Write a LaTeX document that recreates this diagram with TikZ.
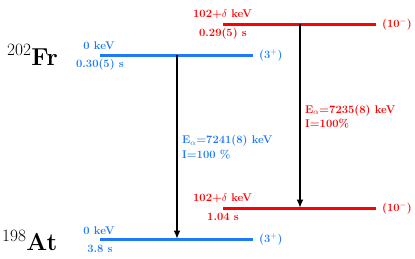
\documentclass[tikz,border=0pt]{standalone}
\usetikzlibrary{arrows.meta}
\definecolor{lvblue}{RGB}{30,122,250}
\definecolor{lvred}{RGB}{255,0,0}
\begin{document}
\begin{tikzpicture}[x=1pt,y=-1pt,
  lvl/.style={line width=3pt},
  lab/.style={font=\fontsize{11.2}{13}\selectfont\bfseries, inner sep=0pt},
  spin/.style={lab, anchor=west},
  trans/.style={line width=1.9pt, -{Latex[length=8.5pt,width=7pt]}},
  iso/.style={font=\fontsize{24.5}{28}\selectfont, inner sep=0pt}
]
\useasboundingbox (0,0) rectangle (415,258);
% levels
\coordinate (fbL) at (100,55);  \coordinate (fbR) at (253,55);
\coordinate (frL) at (223,24);  \coordinate (frR) at (376,24);
\coordinate (arL) at (223,208); \coordinate (arR) at (376,208);
\coordinate (abL) at (100,239); \coordinate (abR) at (253,239);
\draw[lvl, lvblue] (fbL) -- (fbR);
\draw[lvl, lvred] (frL) -- (frR);
\draw[lvl, lvred] (arL) -- (arR);
\draw[lvl, lvblue] (abL) -- (abR);
% energy / half-life labels
\node[lab, lvblue] (fbE) at (99,46) {0 keV};
\node[lab, lvblue] (fbT) at (100,65) {0.30(5) s};
\node[lab, lvred] (frE) at (222.5,14) {102+$\delta$ keV};
\node[lab, lvred] (frT) at (223,34) {0.29(5) s};
\node[lab, lvred] (arE) at (222.5,198) {102+$\delta$ keV};
\node[lab, lvred] (arT) at (223,217) {1.04 s};
\node[lab, lvblue] (abE) at (99,231) {0 keV};
\node[lab, lvblue] (abT) at (100,248.5) {3.8 s};
% spins
\node[spin, lvblue] (fbS) at (259,55) {(3$^+$)};
\node[spin, lvred] (frS) at (382,24) {(10$^-$)};
\node[spin, lvred] (arS) at (382,208) {(10$^-$)};
\node[spin, lvblue] (abS) at (259,239) {(3$^+$)};
% transitions
\coordinate (b1) at (177,55); \coordinate (b2) at (177,239);
\coordinate (r1) at (300,24); \coordinate (r2) at (300,208);
\draw[trans] (b1) -- (b2);
\draw[trans] (r1) -- (r2);
\node[lab, lvblue, anchor=west] (bl1) at (182,141) {E$_\alpha$=7241(8) keV};
\node[lab, lvblue, anchor=west] (bl2) at (182,154.5) {I=100 \%};
\node[lab, lvred, anchor=west] (rl1) at (305,110.5) {E$_\alpha$=7235(8) keV};
\node[lab, lvred, anchor=west] (rl2) at (305,124) {I=100\%};
% isotopes
\node[iso, anchor=base west] (fr) at (7,65) {$^{202}$\textbf{Fr}};
\node[iso, anchor=base west] (at) at (2,250.5) {$^{198}$\textbf{At}};
\end{tikzpicture}
\end{document}
